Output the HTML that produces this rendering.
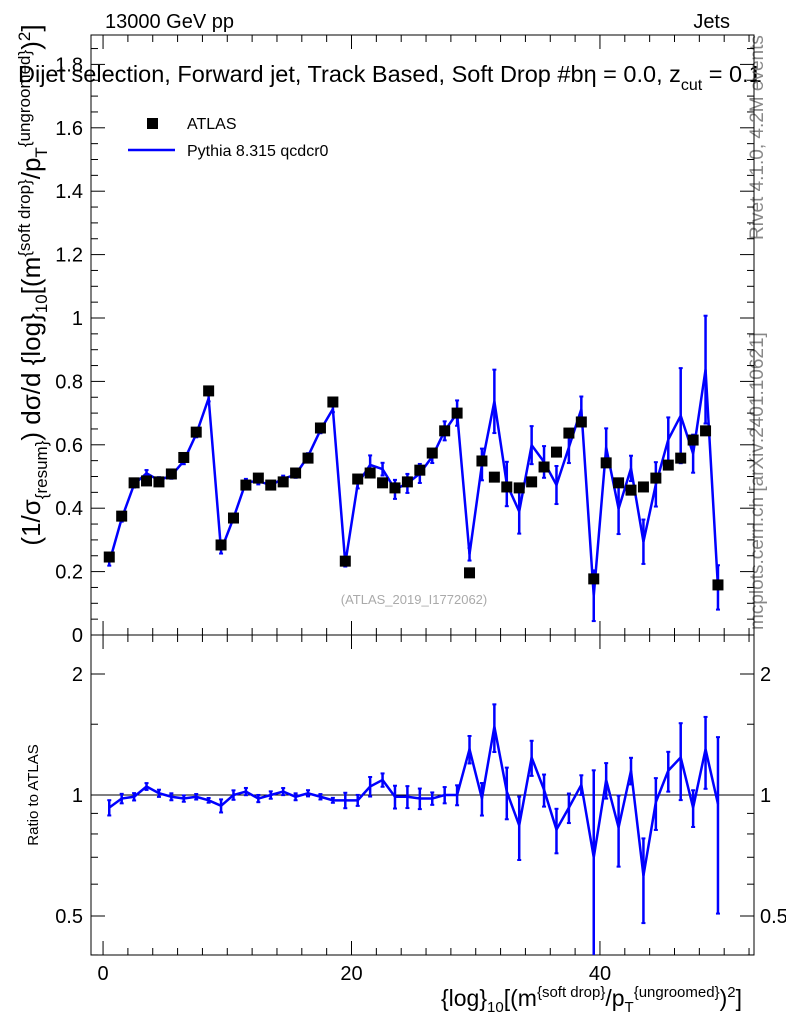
<!DOCTYPE html>
<html><head><meta charset="utf-8"><style>
body{margin:0;background:#fff;width:786px;height:1024px;overflow:hidden;font-family:"Liberation Sans",sans-serif}
svg text{font-family:"Liberation Sans",sans-serif}
</style></head><body>
<svg id="c" width="786" height="1024" xmlns="http://www.w3.org/2000/svg">
<text x="105" y="28" font-size="20">13000 GeV pp</text>
<text x="730" y="28" font-size="20" text-anchor="end">Jets</text>
<text x="18" y="82" font-size="23.5">Dijet selection, Forward jet, Track Based, Soft Drop #b<tspan>η = 0.0, z</tspan><tspan font-size="16" dy="8">cut</tspan><tspan dy="-8"> = 0.1</tspan></text>
<text transform="translate(763,240) rotate(-90)" font-size="19" fill="#888">Rivet 4.1.0,  4.2M events</text>
<text transform="translate(763,630) rotate(-90)" font-size="19" fill="#888">mcplots.cern.ch [arXiv:2401.10621]</text>
<text x="414" y="604" font-size="13" fill="#aaa" text-anchor="middle">(ATLAS_2019_I1772062)</text>
<text transform="translate(40,285) rotate(-90)" font-size="26" text-anchor="middle">(1/σ<tspan font-size="17" dy="7">{resum}</tspan><tspan dy="-7">) dσ/d {log}</tspan><tspan font-size="17" dy="7">10</tspan><tspan dy="-7">[(m</tspan><tspan font-size="17" dy="-10">{soft drop}</tspan><tspan dy="10">/p</tspan><tspan font-size="17" dy="7">T</tspan><tspan font-size="17" dy="-17">{ungroomed}</tspan><tspan dy="10">)</tspan><tspan font-size="17" dy="-10">2</tspan><tspan dy="10">]</tspan></text>
<text transform="translate(38,795) rotate(-90)" font-size="15" text-anchor="middle">Ratio to ATLAS</text>
<text x="742" y="1006" font-size="23" text-anchor="end">{log}<tspan font-size="15" dy="6">10</tspan><tspan dy="-6">[(m</tspan><tspan font-size="15" dy="-9">{soft drop}</tspan><tspan dy="9">/p</tspan><tspan font-size="15" dy="6">T</tspan><tspan font-size="15" dy="-15">{ungroomed}</tspan><tspan dy="9">)</tspan><tspan font-size="15" dy="-9">2</tspan><tspan dy="9">]</tspan></text>
<g>
<rect x="147" y="118" width="11" height="11" fill="#000"/>
<text x="187" y="129" font-size="16">ATLAS</text>
<line x1="128" y1="150" x2="175" y2="150" stroke="#00f" stroke-width="2.5"/>
<text x="187" y="156" font-size="16">Pythia 8.315 qcdcr0</text>
</g>
</svg>
<script>
const atlas=[0.246,0.375,0.48,0.486,0.483,0.508,0.56,0.64,0.77,0.284,0.369,0.473,0.495,0.473,0.483,0.511,0.558,0.653,0.735,0.233,0.492,0.511,0.48,0.464,0.483,0.52,0.574,0.644,0.70,0.196,0.549,0.498,0.467,0.464,0.483,0.53,0.577,0.637,0.672,0.177,0.543,0.48,0.457,0.467,0.495,0.536,0.558,0.615,0.644,0.158];
const ratio=[0.93,0.98,0.99,1.05,1.01,0.99,0.98,0.99,0.97,0.94,1.0,1.02,0.98,1.0,1.02,0.99,1.01,0.99,0.97,0.97,0.97,1.05,1.09,0.99,0.99,0.98,0.98,1.0,1.0,1.3,0.98,1.48,1.02,0.84,1.24,1.03,0.82,0.93,1.06,0.70,1.09,0.83,1.15,0.63,0.96,1.15,1.24,0.93,1.3,0.95];
const errs=[0.01,0.01,0.01,0.01,0.01,0.01,0.01,0.01,0.01,0.01,0.01,0.01,0.01,0.01,0.01,0.01,0.01,0.01,0.01,0.01,0.015,0.03,0.02,0.03,0.03,0.03,0.02,0.03,0.04,0.02,0.05,0.1,0.07,0.07,0.06,0.05,0.06,0.05,0.04,0.08,0.06,0.08,0.04,0.07,0.07,0.07,0.15,0.06,0.17,0.07];
const xTicks=[0,20,40];
const yTicks=[0,0.2,0.4,0.6,0.8,1,1.2,1.4,1.6,1.8];
const rTicks=[0.5,1,2];
const svg=document.getElementById('c');const NS='http://www.w3.org/2000/svg';
const L=91,R=754,T1=35,B1=635,T2=635,B2=955;
const X=v=>L+(v+0.97)*(R-L)/53.37;
const Y=v=>B1-v*317;
const YR=v=>795-Math.log2(v)*121;
function mk(t,a,p){const e=document.createElementNS(NS,t);for(const k in a)e.setAttribute(k,a[k]);(p||svg).appendChild(e);return e;}
for(const [t,b,nm] of [[T1,B1,'top-frame'],[T2,B2,'ratio-frame']]){
const f=mk('rect',{x:L,y:t,width:R-L,height:b-t,fill:'none',stroke:'#000','stroke-width':1});


for(let v=0;v<=52;v+=2){const maj=v%20==0;const l=maj?14:7;
mk('line',{x1:X(v),x2:X(v),y1:b,y2:b-l,stroke:'#000'});mk('line',{x1:X(v),x2:X(v),y1:t,y2:t+l,stroke:'#000'});}
}
xTicks.forEach(v=>{const t=mk('text',{x:X(v),y:980,'font-size':20,'text-anchor':'middle'});t.textContent=v;

});
for(let v=0;v<=1.86;v+=0.05){const maj=Math.abs(v*5-Math.round(v*5))<1e-6;const l=maj?14:7;
mk('line',{x1:L,x2:L+l,y1:Y(v),y2:Y(v),stroke:'#000'});mk('line',{x1:R,x2:R-l,y1:Y(v),y2:Y(v),stroke:'#000'});}
yTicks.forEach(v=>{const t=mk('text',{x:83,y:Y(v)+7,'font-size':20,'text-anchor':'end'});t.textContent=String(v);

});
[0.4,0.5,0.6,0.7,0.8,0.9,1,1.5,2].forEach(v=>{const maj=[0.5,1,2].includes(v);const l=maj?14:7;
mk('line',{x1:L,x2:L+l,y1:YR(v),y2:YR(v),stroke:'#000'});mk('line',{x1:R,x2:R-l,y1:YR(v),y2:YR(v),stroke:'#000'});});
rTicks.forEach(v=>{for(const [x,a] of [[83,'end'],[760,'start']]){const t=mk('text',{x:x,y:YR(v)+7,'font-size':20,'text-anchor':a});t.textContent=String(v);

}});
const one=mk('line',{x1:L,x2:R,y1:YR(1),y2:YR(1),stroke:'#000'});


const cp=mk('clipPath',{id:'cl2'});mk('rect',{x:L,y:T2,width:R-L,height:B2-T2},cp);
const py=atlas.map((a,i)=>a*ratio[i]);
let p1=[],p2=[];
py.forEach((v,i)=>{const x=X(i+0.5);p1.push(x+','+Y(v));p2.push(x+','+YR(ratio[i]));
const e=mk('line',{x1:x,x2:x,y1:Y(v-errs[i]),y2:Y(v+errs[i]),stroke:'#00f','stroke-width':2.5});


const re=errs[i]/atlas[i];
const e2=mk('line',{x1:x,x2:x,y1:YR(Math.max(ratio[i]-re,0.3)),y2:YR(ratio[i]+re),stroke:'#00f','stroke-width':2.5,'clip-path':'url(#cl2)'});


for(const [yy,yf] of [[Y(v-errs[i]),0],[Y(v+errs[i]),0],[YR(Math.max(ratio[i]-re,0.3)),1],[YR(ratio[i]+re),1]]){mk('line',{x1:x-2,x2:x+2,y1:yy,y2:yy,stroke:'#00f','stroke-width':2,'clip-path':yf?'url(#cl2)':''});}
});
const l1=mk('polyline',{points:p1.join(' '),fill:'none',stroke:'#00f','stroke-width':2.5});


const l2=mk('polyline',{points:p2.join(' '),fill:'none',stroke:'#00f','stroke-width':2.5});


atlas.forEach((a,i)=>{const r=mk('rect',{x:X(i+0.5)-5.5,y:Y(a)-5.5,width:11,height:11,fill:'#000'});

});
</script>
</body></html>
